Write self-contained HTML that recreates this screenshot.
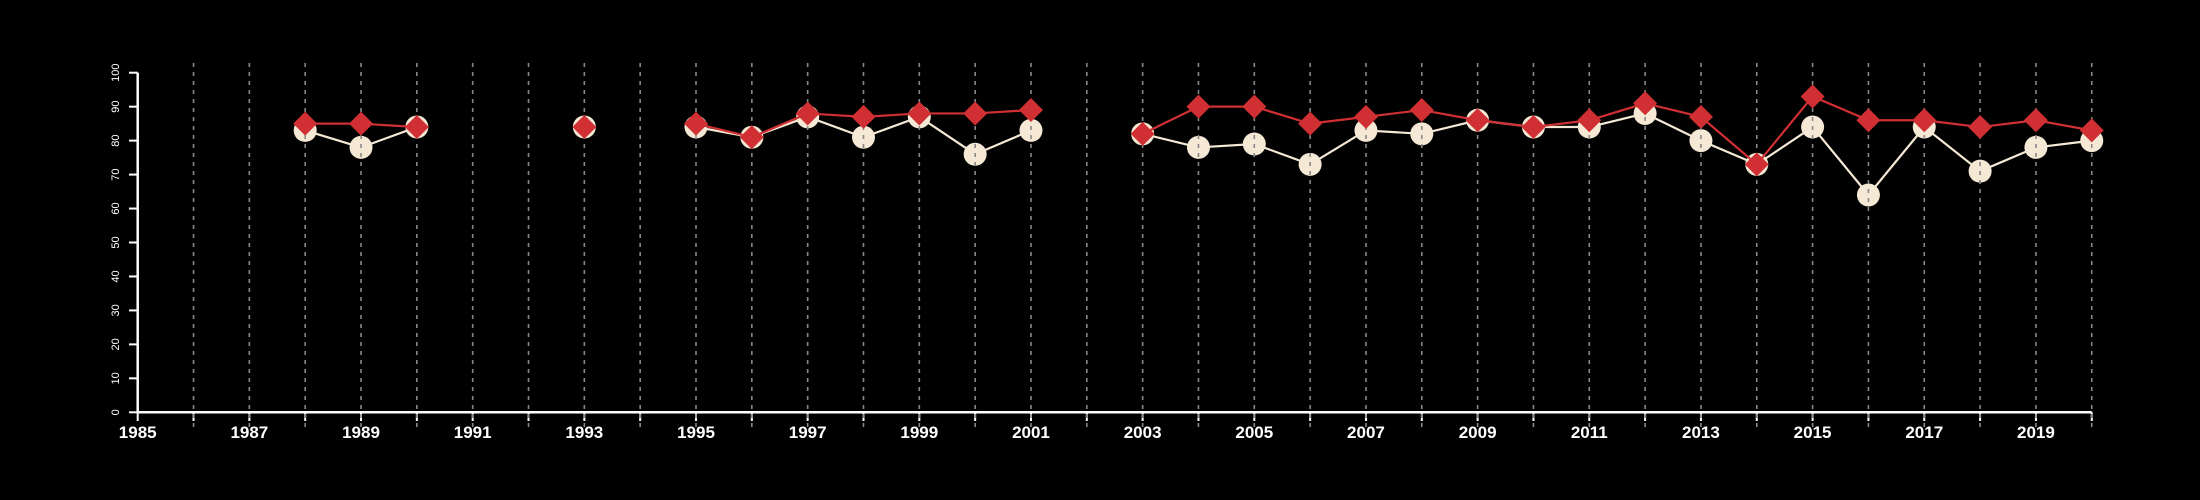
<!DOCTYPE html>
<html><head><meta charset="utf-8"><style>html,body{margin:0;background:#000;}svg{display:block}</style></head>
<body>
<svg id="chart" width="2200" height="500" xmlns="http://www.w3.org/2000/svg" style="background:#000;font-family:'Liberation Sans',sans-serif"></svg>
<script>
const years = [1988,1989,1990,1993,1995,1996,1997,1998,1999,2000,2001,2003,2004,2005,2006,2007,2008,2009,2010,2011,2012,2013,2014,2015,2016,2017,2018,2019,2020];
const whiteValues = [83,78,84,84,84,81,87,81,87,76,83,82,78,79,73,83,82,86,84,84,88,80,73,84,64,84,71,78,80];
const redValues = [85,85,84,84,85,81,88,87,88,88,89,82,90,90,85,87,89,86,84,86,91,87,73,93,86,86,84,86,83];
const yTicks = [0,10,20,30,40,50,60,70,80,90,100];
const xTickLabels = [1985,1987,1989,1991,1993,1995,1997,1999,2001,2003,2005,2007,2009,2011,2013,2015,2017,2019];

const svg = document.getElementById('chart');
const NS = 'http://www.w3.org/2000/svg';
const x = yr => 137.7 + (yr - 1985) * 55.83;
const y = v => 412.3 - v * 3.396;
function mk(tag, attrs, parent) {
  const e = document.createElementNS(NS, tag);
  for (const k in attrs) e.setAttribute(k, attrs[k]);
  (parent || svg).appendChild(e);
  return e;
}
// axes
let e = mk('line', {x1:x(1985), y1:412.3, x2:x(2020), y2:412.3, stroke:'#fff', 'stroke-width':2.5});


e = mk('line', {x1:137.7, y1:y(0), x2:137.7, y2:y(100), stroke:'#fff', 'stroke-width':2.5});


yTicks.forEach(t => {
  mk('line', {x1:129, y1:y(t), x2:137.7, y2:y(t), stroke:'#fff', 'stroke-width':2});
  const tx = mk('text', {x:0, y:0, fill:'#fff', 'font-size':11, 'text-anchor':'middle', transform:`translate(119,${y(t)}) rotate(-90)`});
  tx.textContent = t;
  
  
});
for (let yr = 1985; yr <= 2020; yr++) {
  mk('line', {x1:x(yr), y1:412.3, x2:x(yr), y2:421, stroke:'#fff', 'stroke-width':2});
}
xTickLabels.forEach(yr => {
  const tx = mk('text', {x:x(yr), y:438, fill:'#fff', 'font-size':17, 'font-weight':'bold', 'text-anchor':'middle'});
  tx.textContent = yr;
  
  
});
function seriesPath(vals) {
  let d = '';
  years.forEach((yr, i) => {
    const cont = i > 0 && yr - years[i-1] === 1;
    d += (cont ? 'L' : 'M') + x(yr) + ' ' + y(vals[i]) + ' ';
  });
  return d;
}
e = mk('path', {d:seriesPath(whiteValues), fill:'none', stroke:'#f5e8d5', 'stroke-width':2.2});


years.forEach((yr, i) => {
  const c = mk('circle', {cx:x(yr), cy:y(whiteValues[i]), r:11.5, fill:'#f5e8d5'});
  
  
});
// grid
for (let yr = 1986; yr <= 2020; yr++) {
  const g = mk('line', {x1:x(yr), y1:63, x2:x(yr), y2:428, stroke:'#888', 'stroke-width':1.6, 'stroke-dasharray':'4,5'});
  
  
}
e = mk('path', {d:seriesPath(redValues), fill:'none', stroke:'#d03033', 'stroke-width':2.2});


years.forEach((yr, i) => {
  const cx = x(yr), cy = y(redValues[i]), s = 12;
  const p = mk('polygon', {points:`${cx},${cy-s} ${cx+s},${cy} ${cx},${cy+s} ${cx-s},${cy}`, fill:'#d03033'});
  
  
});
</script>
</body></html>
